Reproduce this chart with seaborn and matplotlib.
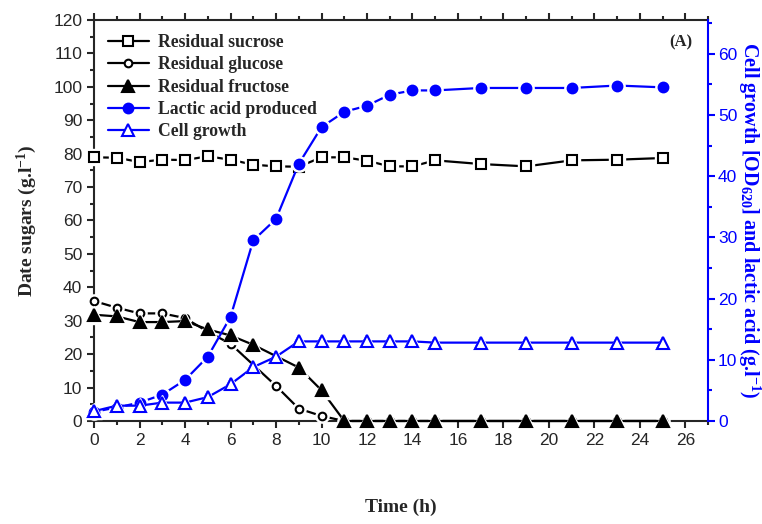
import numpy as np
import pandas as pd
import matplotlib
matplotlib.use("Agg")
import matplotlib.pyplot as plt
from matplotlib.ticker import MultipleLocator
import seaborn as sns

# czasy pomiarow (h)
time_sucrose = [0, 1, 2, 3, 4, 5, 6, 7, 8, 9, 10, 11, 12, 13, 14, 15, 17, 19, 21, 23, 25]
sucrose = [78.9, 78.8, 77.5, 78.2, 78.1, 79.2, 78.2, 76.7, 76.2, 76.1, 78.9, 78.9, 77.9,
           76.2, 76.2, 78.0, 76.9, 76.2, 78.0, 78.2, 78.7]

time_glucose = [0, 1, 2, 3, 4, 5, 6, 8, 9, 10, 11, 12, 13, 14, 15, 17, 19, 21, 23, 25]
glucose = [35.9, 33.9, 32.2, 32.2, 30.8, 26.7, 23.1, 10.5, 3.7, 1.5, 0, 0, 0, 0, 0, 0, 0, 0, 0, 0]

time_fructose = [0, 1, 2, 3, 4, 5, 6, 7, 9, 10, 11, 12, 13, 14, 15, 17, 19, 21, 23, 25]
fructose = [31.8, 31.3, 29.6, 29.6, 29.9, 27.4, 25.6, 22.8, 16.0, 9.2, 0, 0, 0, 0, 0, 0, 0, 0, 0, 0]

time_bio = [0, 1, 2, 3, 4, 5, 6, 7, 8, 9, 10, 11, 12, 13, 14, 15, 17, 19, 21, 23, 25]
lactic = [1.5, 2.2, 3.0, 4.3, 6.7, 10.5, 17.0, 29.5, 33.0, 42.0, 48.0, 50.5, 51.5, 53.3,
          54.0, 54.0, 54.4, 54.4, 54.4, 54.8, 54.5]
cell = [1.6, 2.5, 2.5, 3.0, 3.0, 3.9, 6.0, 8.8, 10.5, 13.0, 13.0, 13.0, 13.0, 13.0,
        13.0, 12.8, 12.8, 12.8, 12.8, 12.8, 12.8]

BLUE = "#0000ff"

sns.set_style("ticks")
plt.rcParams["font.family"] = ["Liberation Sans", "DejaVu Sans"]
plt.rcParams["mathtext.fontset"] = "custom"
plt.rcParams["mathtext.rm"] = "Liberation Serif:bold"
plt.rcParams["mathtext.it"] = "Liberation Serif:bold"
plt.rcParams["mathtext.bf"] = "Liberation Serif:bold"

fig = plt.figure(figsize=(7.62, 5.24), dpi=100)
ax = fig.add_axes([0.1234, 0.1966, 0.806, 0.7652])
ax2 = ax.twinx()

serif_bold = {"family": "Liberation Serif", "weight": "bold"}


def draw(axis, x, y, color, marker, ms, face, label, z):
    # linia + biale tlo pod markerem (przerwa jak w Origin) + marker
    sns.lineplot(x=x, y=y, ax=axis, color=color, lw=1.6, label=label, zorder=z,
                 marker=marker, markersize=ms, markerfacecolor=face,
                 markeredgecolor=color, markeredgewidth=1.5, clip_on=False)
    axis.plot(x, y, ls="none", marker=marker, markersize=ms + 4, color="white",
              zorder=z + 0.1, clip_on=False)
    axis.plot(x, y, ls="none", marker=marker, markersize=ms, markerfacecolor=face,
              markeredgecolor=color, markeredgewidth=1.5, zorder=z + 0.2, clip_on=False)


draw(ax, time_sucrose, sucrose, "black", "s", 7, "white", "Residual sucrose", 3)
draw(ax, time_glucose, glucose, "black", "o", 5.5, "white", "Residual glucose", 4)
draw(ax, time_fructose, fructose, "black", "^", 9, "black", "Residual fructose", 5)
draw(ax2, time_bio, lactic, BLUE, "o", 7, BLUE, "Lactic acid produced", 6)
draw(ax2, time_bio, cell, BLUE, "^", 8, "white", "Cell growth", 7)

ax.set_xlim(0, 27)
ax.set_ylim(0, 120)
ax2.set_ylim(0, 65.5)

ax.xaxis.set_major_locator(MultipleLocator(2))
ax.xaxis.set_minor_locator(MultipleLocator(1))
ax.yaxis.set_major_locator(MultipleLocator(10))
ax.yaxis.set_minor_locator(MultipleLocator(5))
ax2.yaxis.set_major_locator(MultipleLocator(10))
ax2.yaxis.set_minor_locator(MultipleLocator(5))

ax.tick_params(axis="both", which="major", length=5, width=1.5, labelsize=12.5, direction="out")
ax.tick_params(axis="both", which="minor", length=3, width=1.5, direction="out")
ax.tick_params(axis="x", which="both", top=True, labeltop=False)
ax2.tick_params(axis="y", which="major", length=5, width=1.5, labelsize=12.5,
                colors=BLUE, direction="out", pad=2)
ax2.tick_params(axis="y", which="minor", length=3, width=1.5, colors=BLUE, direction="out")

for s in ["left", "bottom", "top"]:
    ax.spines[s].set_linewidth(1.5)
ax2.spines["right"].set_linewidth(1.5)
ax2.spines["right"].set_color(BLUE)
ax2.spines["left"].set_visible(False)
ax2.spines["top"].set_visible(False)
ax2.spines["bottom"].set_visible(False)
ax.spines["right"].set_visible(False)

ax.set_xlabel("Time (h)", fontdict=serif_bold, fontsize=14, labelpad=37)
ax.set_ylabel("Date sugars (g.l$^{-1}$)", fontdict=serif_bold, fontsize=14, labelpad=10)
ax2.set_ylabel("Cell growth [OD$_{620}$] and lactic acid (g.l$^{-1}$)",
               fontdict=serif_bold, fontsize=14.5, color=BLUE, rotation=270,
               ha="center", va="center")
ax2.yaxis.set_label_coords(1.067, 0.5)

ax.text(0.975, 0.945, "(A)", transform=ax.transAxes, ha="right", va="center",
        fontdict=serif_bold, fontsize=12)

# legenda wspolna dla obu osi
h1, l1 = ax.get_legend_handles_labels()
h2, l2 = ax2.get_legend_handles_labels()
ax2.get_legend().remove()
ax.get_legend().remove()
leg = ax.legend(h1 + h2, l1 + l2, loc="upper left", bbox_to_anchor=(0.0, 1.0),
                frameon=False, prop={"family": "Liberation Serif", "weight": "bold", "size": 12.7},
                handlelength=2.3, handletextpad=0.5, labelspacing=0.3, borderaxespad=0.4)
leg.set_zorder(10)

fig.savefig("out.png", dpi=100)
